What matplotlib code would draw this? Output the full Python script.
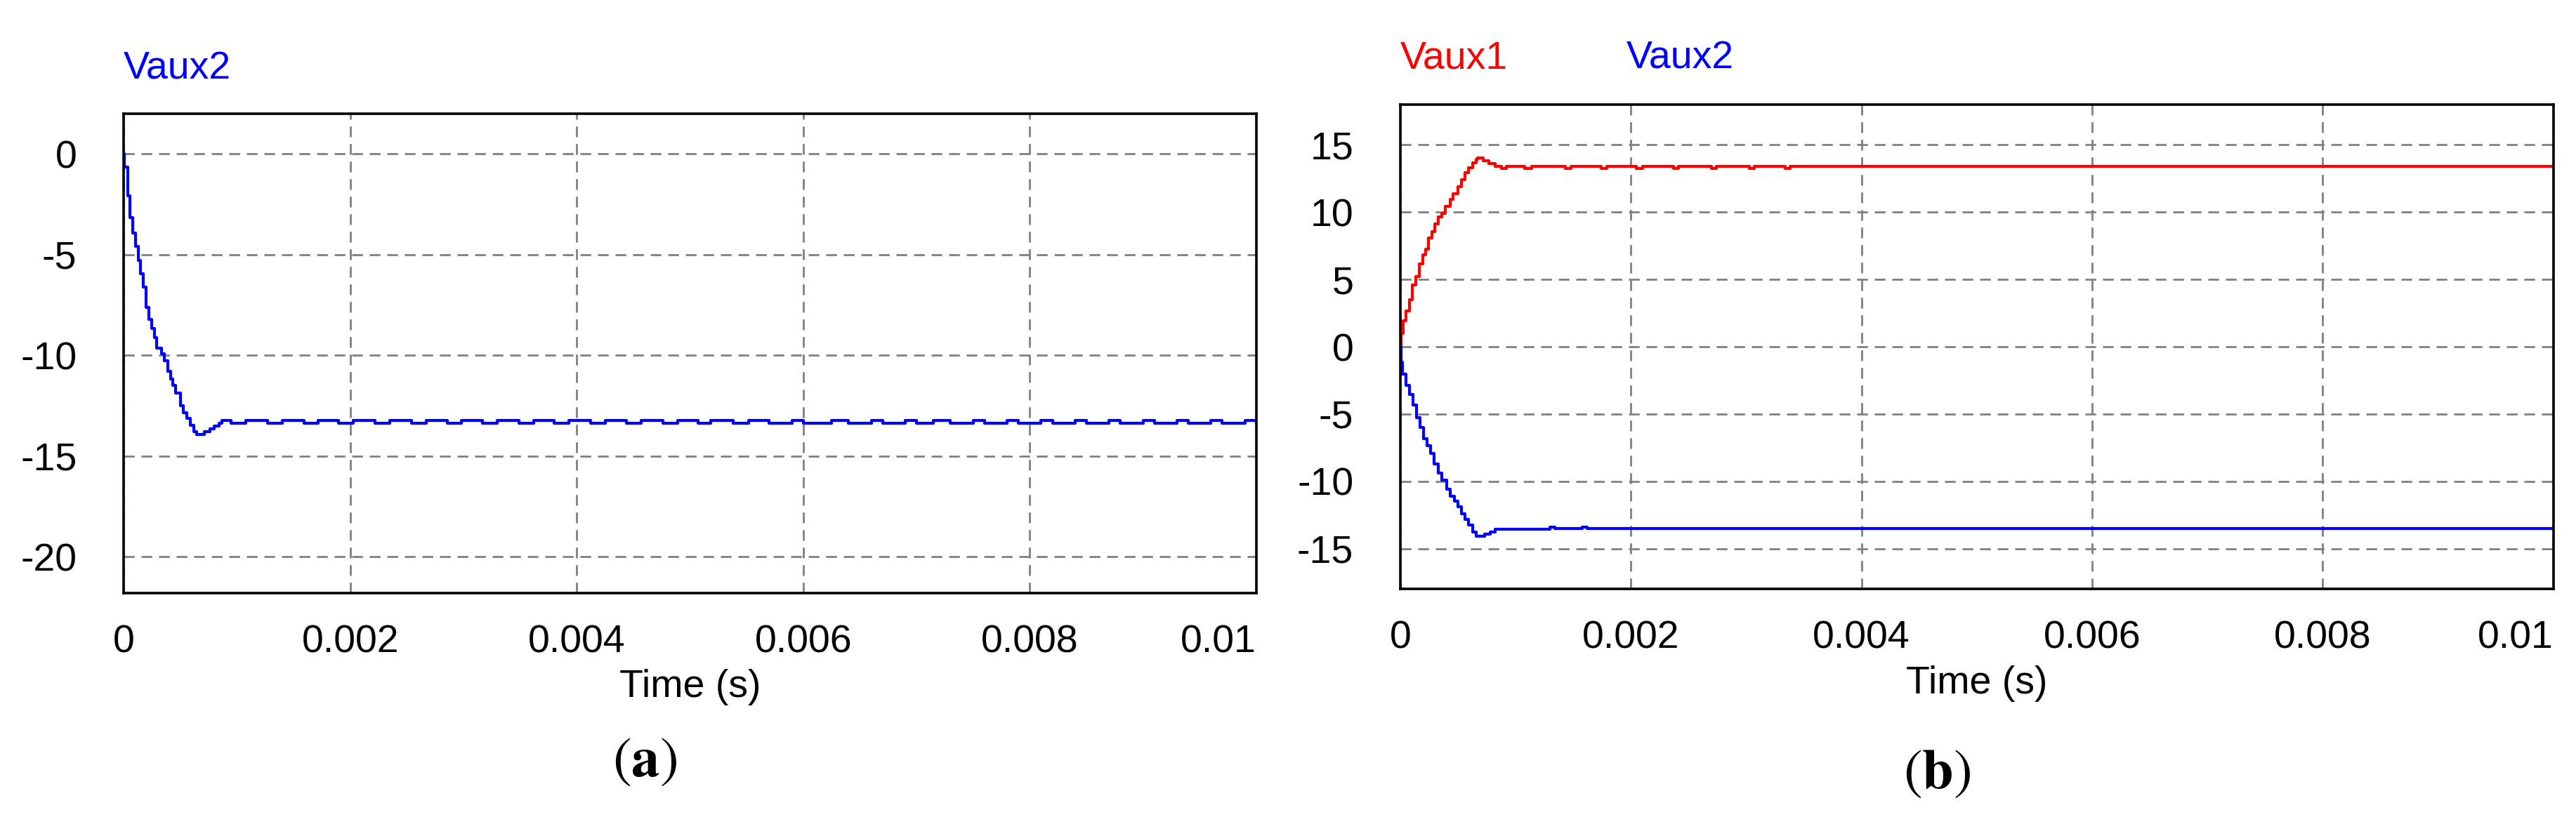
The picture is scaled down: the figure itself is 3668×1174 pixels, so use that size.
import matplotlib
matplotlib.use("Agg")
import matplotlib.pyplot as plt

plt.rcParams['font.family'] = ['Liberation Sans', 'DejaVu Sans']
plt.rcParams['mathtext.fontset'] = 'stix'

# time axis ticks (s)
x_ticks = [0, 0.002, 0.004, 0.006, 0.008, 0.01]
x_tick_labels = ['0', '0.002', '0.004', '0.006', '0.008', '0.01']

# panel (a): Vaux2
a_y_ticks = [0, -5, -10, -15, -20]
a_y_tick_labels = ['0', '-5', '-10', '-15', '-20']
a_t = [0, 0.000005, 0.000035, 0.000056, 0.00008, 0.000103, 0.000128, 0.000151,
       0.000175, 0.000198, 0.000222, 0.000246, 0.00027, 0.000294, 0.000337,
       0.00036, 0.000389, 0.000412, 0.000436, 0.00046, 0.000502, 0.000527,
       0.000555, 0.000586, 0.00062, 0.000645, 0.00071, 0.00076, 0.0008,
       0.00084, 0.00087,
       0.00095, 0.00108, 0.00127, 0.0014, 0.00159, 0.00172, 0.0019, 0.00203,
       0.00222, 0.00235, 0.00254, 0.00267, 0.00286, 0.00298, 0.00317, 0.0033,
       0.00349, 0.00362, 0.0038, 0.00393, 0.00412, 0.00425, 0.00444, 0.00457,
       0.00476, 0.00489, 0.00507, 0.00518, 0.00538, 0.00552,
       0.0057, 0.0059, 0.006, 0.00625, 0.0064, 0.0066, 0.0067, 0.0069, 0.007,
       0.00715, 0.0073, 0.0075, 0.0076, 0.0078, 0.0079, 0.0081, 0.0082,
       0.0084, 0.0085, 0.0087, 0.0088, 0.009, 0.0091, 0.0093, 0.0094, 0.0096,
       0.0097, 0.0099, 0.01]
a_vaux2 = [0, -0.66, -2.08, -3.15, -3.94, -4.60, -5.28, -5.96,
           -6.62, -7.63, -8.22, -8.66, -9.10, -9.64, -9.91,
           -10.26, -10.80, -11.16, -11.48, -11.87, -12.49, -12.84,
           -13.12, -13.47, -13.79, -13.92, -13.79, -13.65, -13.52,
           -13.38, -13.24,
           -13.36, -13.24, -13.36, -13.24, -13.36, -13.24, -13.36, -13.24,
           -13.36, -13.24, -13.36, -13.24, -13.36, -13.24, -13.36, -13.24,
           -13.36, -13.24, -13.36, -13.24, -13.36, -13.24, -13.36, -13.24,
           -13.36, -13.24, -13.36, -13.24, -13.36, -13.24,
           -13.36, -13.24, -13.36, -13.24, -13.36, -13.24, -13.36, -13.24, -13.36,
           -13.24, -13.36, -13.24, -13.36, -13.24, -13.36, -13.24, -13.36,
           -13.24, -13.36, -13.24, -13.36, -13.24, -13.36, -13.24, -13.36, -13.24,
           -13.36, -13.24, -13.36]

# panel (b): Vaux1 and Vaux2
b_y_ticks = [15, 10, 5, 0, -5, -10, -15]
b_y_tick_labels = ['15', '10', '5', '0', '-5', '-10', '-15']
b_t1 = [0, 0.000005, 0.000024, 0.000049, 0.00008, 0.000104, 0.000136, 0.000167,
        0.000198, 0.00022, 0.000242, 0.000274, 0.000299, 0.00033, 0.00036,
        0.00039, 0.00043, 0.00046, 0.0005, 0.00053, 0.00056, 0.000594,
        0.000625, 0.000656, 0.00067, 0.00072, 0.00077, 0.00082, 0.00088,
        0.00092, 0.00108, 0.00114, 0.00143, 0.00148, 0.00174, 0.00179,
        0.00205, 0.0021, 0.00237, 0.00241, 0.0027, 0.00274, 0.00303, 0.00307,
        0.00334, 0.00338, 0.01]
b_vaux1 = [0, 0.99, 1.93, 2.66, 3.52, 4.58, 5.24, 6.17,
           6.83, 7.24, 8.08, 8.56, 9.15, 9.63, 9.90,
           10.42, 10.95, 11.35, 11.89, 12.42, 12.95, 13.29,
           13.67, 13.93, 14.04, 13.82, 13.61, 13.43, 13.27,
           13.43, 13.27, 13.43, 13.27, 13.43, 13.27, 13.43,
           13.27, 13.43, 13.27, 13.43, 13.27, 13.43, 13.27, 13.43,
           13.27, 13.43, 13.43]
b_t2 = [0, 0.000005, 0.00002, 0.00005, 0.00008, 0.00011, 0.00014, 0.00017,
        0.0002, 0.00023, 0.00026, 0.00029, 0.00033, 0.00036, 0.0004, 0.00043,
        0.00047, 0.0005, 0.00053, 0.00056, 0.000594, 0.000625, 0.000656,
        0.00073, 0.00078, 0.00082, 0.0013, 0.00134, 0.00158, 0.00162, 0.01]
b_vaux2 = [0, -1.14, -2.02, -2.86, -3.53, -4.32, -5.26, -6.00,
           -6.85, -7.38, -7.92, -8.71, -9.38, -9.90, -10.57, -11.10,
           -11.50, -11.90, -12.43, -12.83, -13.23, -13.76, -14.10,
           -13.95, -13.76, -13.55, -13.39, -13.5, -13.39, -13.5, -13.39]

FS = 20
grid_style = dict(color='#808080', linewidth=1.0, linestyle=(0, (5.5, 3.5)))


def style_axes(ax, y_ticks, y_labels, ylim):
    ax.set_xlim(0, 0.01)
    ax.set_ylim(*ylim)
    ax.set_xticks(x_ticks)
    ax.set_xticklabels(x_tick_labels, fontsize=FS)
    ax.set_yticks(y_ticks)
    ax.set_yticklabels(y_labels, fontsize=FS)
    ax.get_xticklabels()[-1].set_ha('right')
    ax.tick_params(axis='x', length=0, pad=16)
    ax.tick_params(axis='y', length=0, pad=24)
    ax.grid(True, **grid_style)
    for s in ax.spines.values():
        s.set_linewidth(1.3)
        s.set_color('black')
        s.set_zorder(5)
    ax.set_xlabel('Time (s)', fontsize=FS, va='top')
    ax.xaxis.set_label_coords(0.5, -0.158)


fig = plt.figure(figsize=(18.34, 5.87), dpi=200)

# (a)
ax1 = fig.add_axes([0.0480, 0.2802, 0.4397, 0.5818])
ax1.plot(a_t, a_vaux2, color='#0000FF', lw=1.5, drawstyle='steps-post')
style_axes(ax1, a_y_ticks, a_y_tick_labels, (-21.8, 2.0))
fig.text(0.0480, 0.9165, 'Vaux2', color='#0000FF', fontsize=FS, ha='left', va='center')
fig.text(0.2503, 0.0758, r'$(\mathbf{a})$', fontsize=29, ha='center', va='center')

# (b)
ax2 = fig.add_axes([0.5436, 0.2853, 0.4476, 0.5878])
ax2.plot(b_t1, b_vaux1, color='#FF0000', lw=1.5, drawstyle='steps-post')
ax2.plot(b_t2, b_vaux2, color='#0000FF', lw=1.5, drawstyle='steps-post')
style_axes(ax2, b_y_ticks, b_y_tick_labels, (-18, 18))
fig.text(0.5436, 0.929, 'Vaux1', color='#FF0000', fontsize=FS, ha='left', va='center')
fig.text(0.6314, 0.929, 'Vaux2', color='#0000FF', fontsize=FS, ha='left', va='center')
fig.text(0.7519, 0.0613, r'$(\mathbf{b})$', fontsize=29, ha='center', va='center')

fig.savefig('out.png', dpi=200)
